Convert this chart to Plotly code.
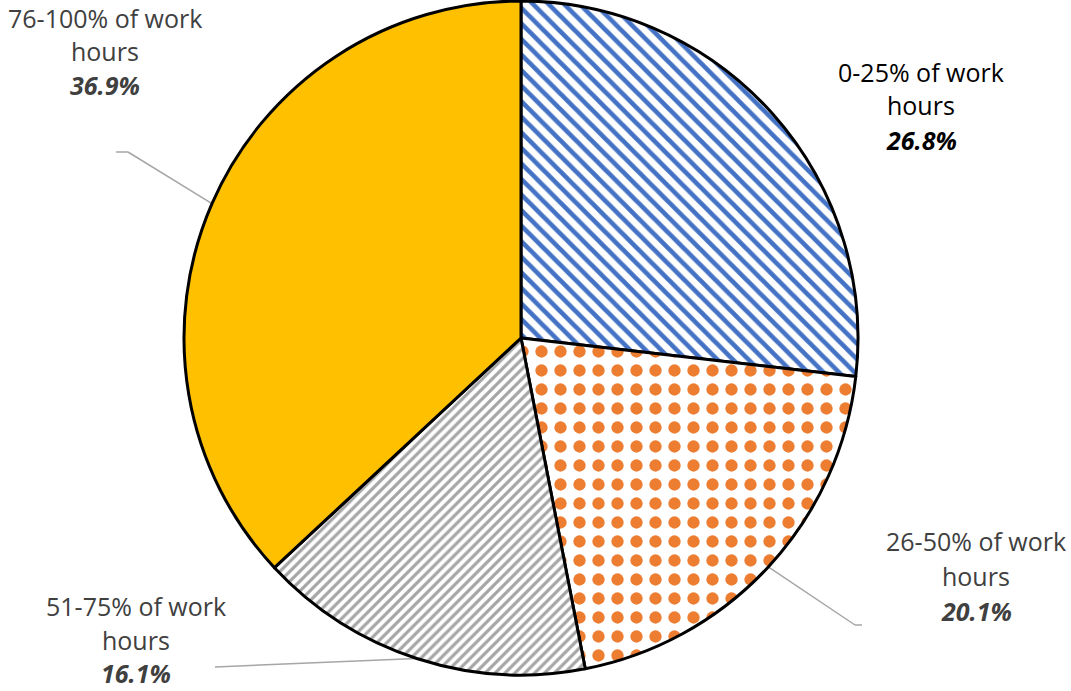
import math
import plotly.graph_objects as go

# Share of respondents by portion of work hours
categories = ["0-25% of work hours", "26-50% of work hours",
              "51-75% of work hours", "76-100% of work hours"]
shares = [26.8, 20.1, 16.1, 36.9]
label_line1 = ["0-25% of work", "26-50% of work", "51-75% of work", "76-100% of work"]
label_line2 = ["hours", "hours", "hours", "hours"]

W, H = 1071, 691
CX, CY, R = 521, 338, 337  # pie centre and radius in pixels

fill_colors = ["#4472C4", "#ED7D31", "#A5A5A5", "#FFC000"]
pattern_shapes = ["\\", ".", "/", ""]
pattern_sizes = [11, 19, 7, 8]
pattern_solidity = [0.42, 0.33, 0.45, 0.3]

dom_x = [(CX - R) / W, (CX + R) / W]
dom_y = [1 - (CY + R) / H, 1 - (CY - R) / H]

fig = go.Figure(go.Pie(
    labels=categories,
    values=shares,
    sort=False,
    direction="clockwise",
    rotation=0,
    textinfo="none",
    hoverinfo="label+percent",
    domain=dict(x=dom_x, y=dom_y),
    marker=dict(
        colors=fill_colors,
        line=dict(color="#000000", width=3),
        pattern=dict(
            shape=pattern_shapes,
            fgcolor=fill_colors,
            bgcolor=["#FFFFFF", "#FFFFFF", "#FFFFFF", "#FFC000"],
            size=pattern_sizes,
            solidity=pattern_solidity,
            fillmode="replace",
        ),
    ),
    showlegend=False,
))


def px(x, y):
    return x / W, 1 - y / H


def edge_point(idx):
    total = sum(shares)
    start = sum(shares[:idx]) / total * 360
    mid = start + shares[idx] / total * 180
    a = math.radians(mid)
    return CX + R * math.sin(a), CY - R * math.cos(a)


# label centres (x) and line baselines (y) in pixels
label_pos = [
    (921, [72, 105, 140]),
    (976, [541, 576, 611]),
    (136, [606, 640, 673]),
    (105, [18, 51, 85]),
]
text_colors = ["#000000", "#404040", "#404040", "#404040"]
font_family = "'Open Sans', sans-serif"

annotations = []
for i, (lx, ys) in enumerate(label_pos):
    texts = [label_line1[i], label_line2[i], f"<b><i>{shares[i]:.1f}%</i></b>"]
    for t, y in zip(texts, ys):
        ax, ay = px(lx, y)
        annotations.append(dict(
            x=ax, y=ay, xref="paper", yref="paper", text=t, showarrow=False,
            xanchor="center", yanchor="middle",
            font=dict(family=font_family, size=25, color=text_colors[i]),
        ))

# leader lines from the slice edge to the outer labels
leaders = {
    1: [(855, 625), (862, 625)],
    2: [(215, 667)],
    3: [(128, 152), (116, 152)],
}
shapes = []
for idx, pts in leaders.items():
    path_pts = [edge_point(idx)] + pts
    for (x0, y0), (x1, y1) in zip(path_pts[:-1], path_pts[1:]):
        a0, b0 = px(x0, y0)
        a1, b1 = px(x1, y1)
        shapes.append(dict(type="line", xref="paper", yref="paper",
                           x0=a0, y0=b0, x1=a1, y1=b1,
                           line=dict(color="#A6A6A6", width=1.5), layer="below"))

fig.update_layout(
    width=W, height=H,
    margin=dict(l=0, r=0, t=0, b=0),
    paper_bgcolor="#FFFFFF",
    plot_bgcolor="#FFFFFF",
    annotations=annotations,
    shapes=shapes,
)

fig.write_html("out.html")
